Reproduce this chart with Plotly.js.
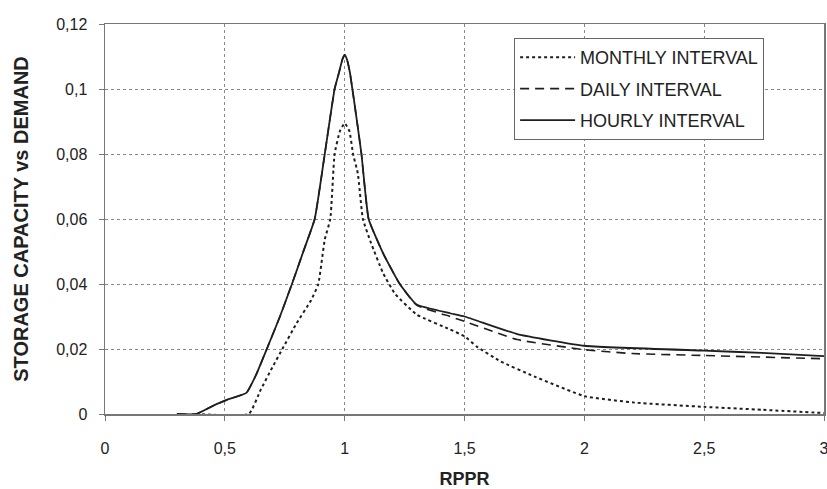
<!DOCTYPE html>
<html><head><meta charset="utf-8">
<script src="https://cdn.plot.ly/plotly-3.0.1.min.js"></script>
<style>html,body{margin:0;padding:0;background:#fff}#c{width:827px;height:489px}</style>
</head><body><div id="c"></div>
<script>
const seriesNames = ["MONTHLY INTERVAL", "DAILY INTERVAL", "HOURLY INTERVAL"];
const monthlyX = [0.38,0.6,0.65,0.70,0.74,0.80,0.86,0.89,0.917,0.94,0.958,0.98,1.0,1.02,1.035,1.055,1.076,1.11,1.16,1.21,1.3,1.44,1.5,1.55,1.65,1.79,2.0,2.21,2.5,2.74,3.0];
const monthlyY = [0,0,0.0075,0.0146,0.02,0.028,0.035,0.04,0.0537,0.06,0.08,0.087,0.0895,0.087,0.08,0.074,0.06,0.0526,0.0434,0.037,0.0306,0.026,0.0239,0.0208,0.0162,0.0116,0.0055,0.0035,0.0022,0.0013,0.0003];
const dailyX = [0.30,0.38,0.45,0.51,0.59,0.63,0.675,0.73,0.78,0.83,0.875,0.917,0.958,0.978,0.99,1.0,1.01,1.022,1.04,1.07,1.10,1.16,1.23,1.30,1.44,1.5,1.72,2.0,2.2,2.5,3.0];
const dailyY = [0,0,0.0025,0.0044,0.0065,0.012,0.02,0.03,0.04,0.0505,0.06,0.08,0.1,0.1055,0.109,0.1105,0.109,0.105,0.096,0.08,0.06,0.0495,0.04,0.0335,0.030,0.0285,0.0229,0.0198,0.0186,0.018,0.017];
const hourlyX = [0.30,0.38,0.45,0.51,0.59,0.63,0.675,0.73,0.78,0.83,0.875,0.917,0.958,0.978,0.99,1.0,1.01,1.022,1.04,1.07,1.10,1.16,1.23,1.30,1.44,1.5,1.72,2.0,2.5,2.74,3.0];
const hourlyY = [0,0,0.0025,0.0044,0.0065,0.012,0.02,0.03,0.04,0.0505,0.06,0.08,0.1,0.1055,0.109,0.1105,0.109,0.105,0.096,0.08,0.06,0.0495,0.04,0.0337,0.031,0.030,0.0246,0.021,0.0195,0.0188,0.0178];

const ink = '#1e1e1e';
const traces = [
  {x: monthlyX, y: monthlyY, name: seriesNames[0], legendgroup: 'm', mode: 'lines', line: {color: ink, width: 2, dash: 'dot', shape: 'spline', smoothing: 0.4}},
  {x: dailyX, y: dailyY, name: seriesNames[1], legendgroup: 'd', mode: 'lines', line: {color: ink, width: 1.6, dash: '9px,6px', shape: 'spline', smoothing: 0.4}},
  {x: hourlyX, y: hourlyY, name: seriesNames[2], legendgroup: 'h', mode: 'lines', line: {color: ink, width: 1.8, shape: 'spline', smoothing: 0.4}}
];
const fam = 'Liberation Sans, Arial, sans-serif';
const axisCommon = {
  showline: true, mirror: true, linecolor: '#777', linewidth: 1.5,
  showgrid: true, gridcolor: '#888', griddash: 'dot', gridwidth: 1,
  zeroline: false, ticks: 'outside', ticklen: 5, tickcolor: '#777',
  ticklabeloverflow: 'allow',
  tickfont: {family: fam, size: 16, color: '#222'}
};
const layout = {
  width: 827, height: 489,
  margin: {l: 105, r: 3, t: 24, b: 75},
  paper_bgcolor: '#fff', plot_bgcolor: '#fff',
  separators: ', ',
  showlegend: true,
  font: {family: fam, color: '#222'},
  xaxis: Object.assign({}, axisCommon, {range: [0, 3], dtick: 0.5, tick0: 0, ticklabelstandoff: 14,
    title: {text: 'RPPR', standoff: 20, font: {size: 18, weight: 'bold', color: '#222'}}}),
  yaxis: Object.assign({}, axisCommon, {range: [0, 0.12], dtick: 0.02, tick0: 0, ticklabelstandoff: 8,
    title: {text: 'STORAGE CAPACITY vs DEMAND', standoff: 22, font: {size: 20, weight: 'bold', color: '#222'}}}),
  legend: {x: 0.569, y: 0.964, xanchor: 'left', yanchor: 'top',
    bgcolor: '#fff', bordercolor: '#666', borderwidth: 1,
    font: {family: fam, size: 18, color: '#222'},
    tracegroupgap: 5, itemwidth: 55}
};
Plotly.newPlot('c', traces, layout, {displayModeBar: false, staticPlot: true});
</script></body></html>
